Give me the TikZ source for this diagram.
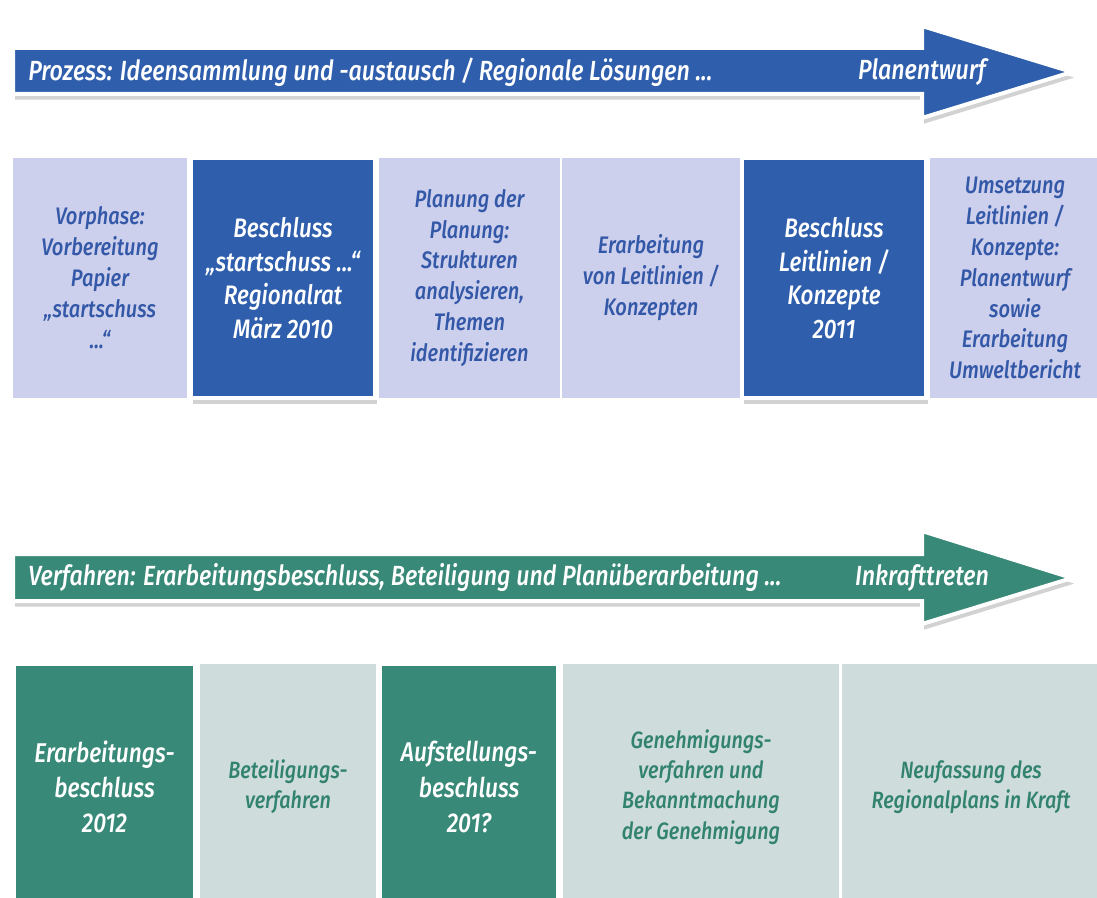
\documentclass[tikz,border=0pt]{standalone}
\usepackage{fontspec}
\setmainfont{Fira Sans}[ItalicFont={* Medium Italic}, FakeStretch=0.84]
\usetikzlibrary{shadows}
\definecolor{planblue}{RGB}{46,94,172}
\definecolor{planlav}{RGB}{205,208,236}
\definecolor{bluetext}{RGB}{52,88,168}
\definecolor{plangreen}{RGB}{56,137,120}
\definecolor{greengray}{RGB}{206,220,220}
\definecolor{greentext}{RGB}{50,130,112}
\tikzstyle{bigarrow} = [draw=white, line width=0.1cm, line join=miter, drop shadow={shadow xshift=1.5pt, shadow yshift=-4pt, opacity=0.35}]
\tikzstyle{arrowtext} = [text=white, font=\fontsize{19.7}{22}\selectfont\itshape, inner sep=0pt]
\tikzstyle{lightbox} = [rectangle, minimum height=6cm, align=center, inner sep=2pt, font=\fontsize{17}{22}\selectfont\itshape]
\tikzstyle{darkbox} = [rectangle, minimum height=6cm, minimum width=4.6cm, align=center, draw=white, line width=0.1cm, text=white, drop shadow={shadow xshift=1.5pt, shadow yshift=-4pt, opacity=0.35}]
\tikzstyle{every node}=[font=\normalsize]

\begin{document}
\begin{tikzpicture}[x=0.025cm, y=-0.025cm]
    		\clip (0,0) rectangle (1097,898);
    		\fill [white] (0,0) rectangle (1097,898);
    		
    		%Prozess-Pfeil
    		\draw [bigarrow, fill=planblue] (13,48) -- (922,48) -- (922,26) -- (1072,72) -- (922,118) -- (922,94) -- (13,94) -- cycle;
    		\node (prozess) [arrowtext, anchor=west] at (28,72) {Prozess: Ideensammlung und -austausch / Regionale Lösungen ...};
    		\node (planentwurf) [arrowtext] at (922,72) {Planentwurf};
    		
    		%Prozess-Schritte
    		\node (p1) [lightbox, fill=planlav, text=bluetext, minimum width=4.35cm] at (100,278) {Vorphase:\\Vorbereitung\\Papier\\„startschuss\\...“};
    		\node (p3) [lightbox, fill=planlav, text=bluetext, minimum width=4.525cm] at (469.5,278) {Planung der\\Planung:\\Strukturen\\analysieren,\\Themen\\identifizieren};
    		\node (p4) [lightbox, fill=planlav, text=bluetext, minimum width=4.45cm] at (651,278) {Erarbeitung\\von Leitlinien /\\Konzepten};
    		\node (p6) [lightbox, fill=planlav, text=bluetext, minimum width=4.25cm] at (1015,278) {Umsetzung\\Leitlinien /\\Konzepte:\\Planentwurf\\sowie\\Erarbeitung\\Umweltbericht};
    		\node (p2) [darkbox, fill=planblue, font=\fontsize{19}{24}\selectfont\itshape] at (283,278) {Beschluss\\„startschuss ...“\\Regionalrat\\März 2010};
    		\node (p5) [darkbox, fill=planblue, font=\fontsize{19}{24}\selectfont\itshape] at (834,278) {Beschluss\\Leitlinien /\\Konzepte\\2011};
    		
    		%Verfahren-Pfeil
    		\draw [bigarrow, fill=plangreen] (13,554) -- (922,554) -- (922,531) -- (1072,578) -- (922,624) -- (922,601) -- (13,601) -- cycle;
    		\node (verfahren) [arrowtext, anchor=west] at (28,578) {Verfahren: Erarbeitungsbeschluss, Beteiligung und Planüberarbeitung ...};
    		\node (inkraft) [arrowtext] at (922,578) {Inkrafttreten};
    		
    		%Verfahren-Schritte
    		\node (v2) [lightbox, fill=greengray, text=greentext, minimum height=6.15cm, minimum width=4.4cm, font=\fontsize{16.8}{21.5}\selectfont\itshape] at (288,787) {Beteiligungs-\\verfahren};
    		\node (v4) [lightbox, fill=greengray, text=greentext, minimum height=6.15cm, minimum width=6.9cm, font=\fontsize{16.8}{21.5}\selectfont\itshape] at (701,787) {Genehmigungs-\\verfahren und\\Bekanntmachung\\der Genehmigung};
    		\node (v5) [lightbox, fill=greengray, text=greentext, minimum height=6.15cm, minimum width=6.45cm, font=\fontsize{16.8}{21.5}\selectfont\itshape] at (971,787) {Neufassung des\\Regionalplans in Kraft};
    		\node (v1) [darkbox, fill=plangreen, minimum height=6.15cm, minimum width=4.525cm, font=\fontsize{19.3}{25}\selectfont\itshape] at (104.5,787) {Erarbeitungs-\\beschluss\\2012};
    		\node (v3) [darkbox, fill=plangreen, minimum height=6.15cm, minimum width=4.45cm, font=\fontsize{19.3}{25}\selectfont\itshape] at (469,787) {Aufstellungs-\\beschluss\\201?};
    	\end{tikzpicture}
\end{document}
